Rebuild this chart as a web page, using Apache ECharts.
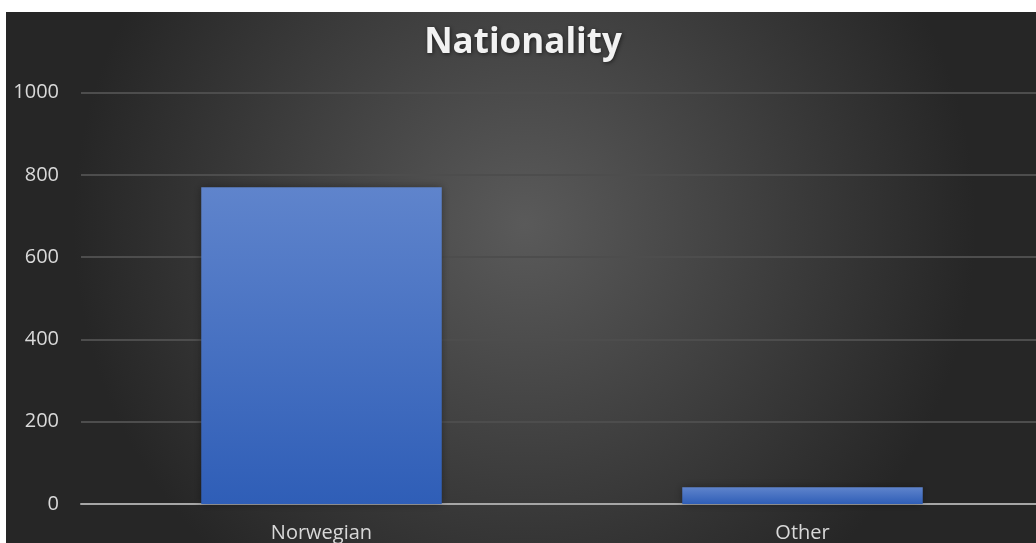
<!DOCTYPE html>
<html><head><meta charset="utf-8">
<script src="https://cdn.jsdelivr.net/npm/echarts@6/dist/echarts.min.js"></script>
<style>
html,body{margin:0;padding:0;background:#fff;width:1036px;height:543px;overflow:hidden;position:relative}
#c{position:absolute;left:6px;top:12px;width:1037px;height:531px}
</style></head><body>
<div id="c"></div>
<script>
const categories = ["Norwegian", "Other"];
const values = [770, 41];
const yTicks = {min: 0, max: 1000, interval: 200};
const chart = echarts.init(document.getElementById('c'));
chart.setOption({
  animation: false,
  backgroundColor: {type:'radial', x:0.5, y:0.4, r:0.85, colorStops:[{offset:0,color:'#5a5a5a'},{offset:0.5,color:'#404040'},{offset:1,color:'#262626'}]},
  title: {text:'Nationality', left:512, textAlign:'center', top:9, textStyle:{color:'#f2f2f2', fontFamily:'Open Sans', fontWeight:'bold', fontSize:35,
    textShadowColor:'rgba(0,0,0,0.55)', textShadowBlur:4, textShadowOffsetX:1, textShadowOffsetY:1}},
  grid: {left:75, right:0, top:80.5, bottom:39},
  xAxis: {type:'category', data:categories,
    axisLine:{lineStyle:{color:'#a6a6a6', width:2}}, axisTick:{show:false},
    axisLabel:{color:'#d9d9d9', fontSize:20, fontFamily:'Open Sans', margin:19}},
  yAxis: {type:'value', min:yTicks.min, max:yTicks.max, interval:yTicks.interval,
    axisLine:{show:false}, axisTick:{show:false},
    axisLabel:{color:'#d9d9d9', fontSize:20, fontFamily:'Open Sans', margin:22, formatter: v => String(v)},
    splitLine:{lineStyle:{color:'#4d4d4d', width:2}}},
  series:[{type:'bar', data:values, barWidth:'50%',
    itemStyle:{color:{type:'linear',x:0,y:0,x2:0,y2:1,colorStops:[{offset:0,color:'#5f84cc'},{offset:1,color:'#2f5eb7'}]},
      shadowColor:'rgba(0,0,0,0.35)', shadowBlur:8}}]
});
</script></body></html>
